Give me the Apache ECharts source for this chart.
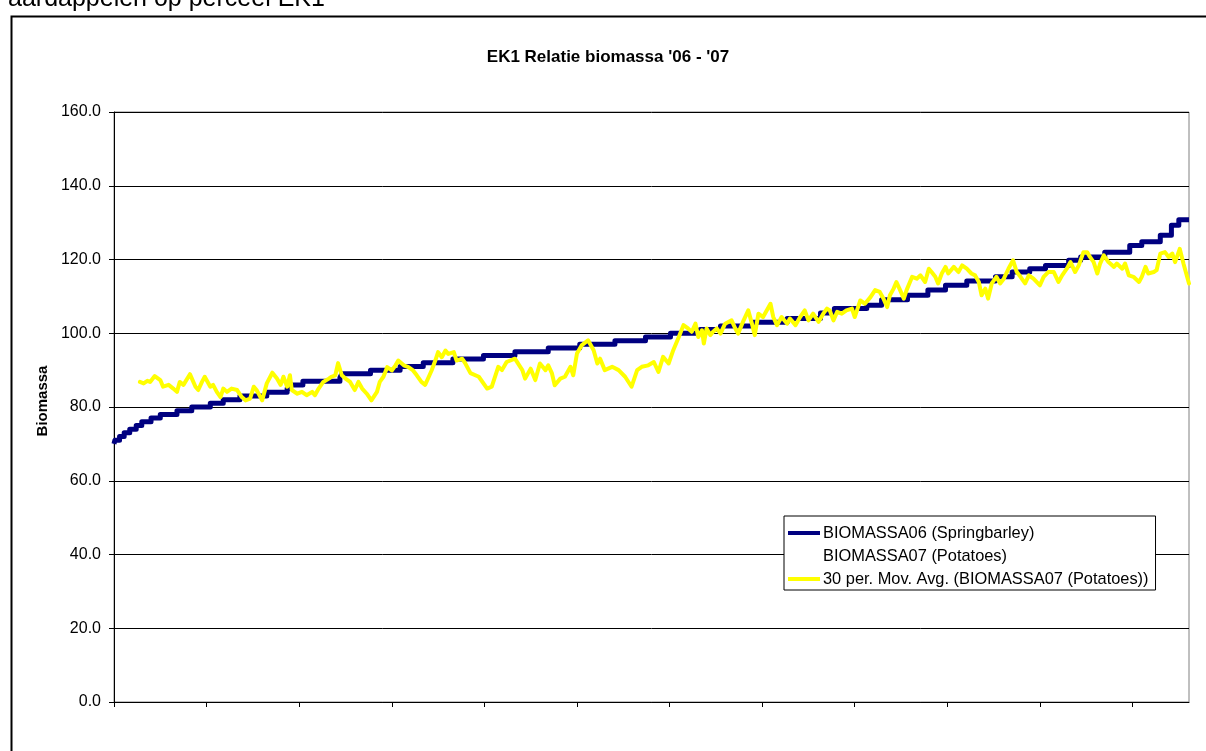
<!DOCTYPE html>
<html>
<head>
<meta charset="utf-8">
<script src="https://cdn.jsdelivr.net/npm/echarts@6/dist/echarts.min.js"></script>
<style>
html,body{margin:0;padding:0;background:#fff;}
#chart{width:1206px;height:751px;}
</style>
</head>
<body>
<div id="chart"></div>
<script>
// ---- texts ----
const pageCaption = 'aardappelen op perceel EK1';
const chartTitle = "EK1 Relatie biomassa '06 - '07";
const yAxisTitle = 'Biomassa';
const seriesNames = [
  'BIOMASSA06 (Springbarley)',
  'BIOMASSA07 (Potatoes)',
  '30 per. Mov. Avg. (BIOMASSA07 (Potatoes))'
];

// ---- axes ----
const yMin = 0, yMax = 160, yStep = 20;
const lastCategory = 1161;      // categories 0..1161
const categoryTickEvery = 100;

// ---- BIOMASSA06: category index where each level starts, and the level ----
const bio06Idx = [0, 1, 6, 11, 17, 24, 30, 40, 50, 68, 84, 104, 118, 136, 165, 187, 190, 204,
  244, 246, 277, 309, 334, 366, 399, 433, 469, 503, 541, 574, 601, 633, 655, 690, 727,
  763, 778, 813, 829, 857, 879, 898, 921, 952, 970, 989, 1006, 1031, 1044, 1070, 1097,
  1110, 1130, 1142, 1150, 1161];
const bio06Val = [70, 71, 72, 73, 74, 75, 76, 77, 78, 79, 80, 81, 82, 83, 84, 85, 86, 87,
  88, 89, 90, 91, 92, 93, 94, 95, 96, 97, 98, 99, 100, 101, 102, 103, 104,
  105.5, 106.7, 107.6, 109.1, 110.3, 111.7, 113.0, 114.2, 115.3, 116.6, 117.5, 118.4, 119.8, 120.7, 122.0, 123.8,
  124.8, 126.6, 129.3, 130.8, 130.8];

// ---- BIOMASSA07 raw values (not drawn in the reference) ----
const bio07Idx = [];
const bio07Val = [];

// ---- 30 per. moving average of BIOMASSA07 ----
const movAvgIdx = [28, 32, 36, 39, 44, 50, 53, 59, 64, 68, 71, 75, 82, 88, 91, 95, 98, 104, 107, 111,
  115, 118, 122, 127, 133, 138, 142, 147, 151, 154, 160, 165, 171, 176, 180, 183, 187, 190, 192, 198,
  203, 208, 214, 217, 221, 226, 232, 235, 239, 242, 246, 250, 255, 260, 264, 268, 273, 278, 284, 287,
  291, 295, 300, 304, 307, 313, 318, 323, 327, 332, 336, 340, 343, 347, 350, 354, 358, 361, 367, 370,
  376, 379, 385, 394, 403, 408, 415, 419, 424, 433, 441, 444, 450, 455, 460, 466, 469, 473, 476, 482,
  487, 493, 496, 500, 505, 512, 518, 522, 525, 530, 538, 545, 552, 559, 565, 570, 577, 583, 588, 593,
  599, 604, 610, 615, 620, 624, 628, 631, 635, 637, 640, 644, 647, 651, 655, 660, 667, 671, 674, 680,
  685, 689, 692, 696, 701, 709, 712, 716, 721, 727, 730, 736, 741, 746, 750, 755, 761, 766, 770, 773,
  777, 781, 786, 791, 797, 800, 806, 811, 817, 822, 827, 831, 835, 838, 842, 845, 849, 853, 856, 862,
  867, 871, 876, 880, 883, 887, 890, 894, 898, 901, 907, 912, 916, 921, 926, 930, 934, 937, 941, 944,
  948, 953, 957, 961, 966, 971, 975, 979, 984, 988, 993, 1000, 1004, 1009, 1015, 1020, 1024, 1029, 1033, 1038,
  1042, 1047, 1051, 1054, 1058, 1062, 1065, 1069, 1074, 1080, 1083, 1089, 1092, 1096, 1101, 1107, 1110, 1114, 1117, 1123,
  1126, 1130, 1135, 1139, 1143, 1146, 1151, 1155, 1161];
const movAvgVal = [86.8, 86.4, 87.1, 86.8, 88.4, 87.3, 85.5, 86.0, 85.0, 84.1, 86.8, 86.0, 88.9, 85.5, 84.6, 86.8, 88.2, 85.5, 86.0, 84.1,
  82.7, 85.0, 84.1, 85.0, 84.6, 82.7, 81.8, 82.3, 85.5, 84.6, 81.8, 86.4, 89.3, 87.7, 86.0, 88.2, 85.5, 88.6, 84.6, 83.6,
  84.1, 83.2, 84.1, 83.2, 85.0, 86.8, 87.7, 88.2, 88.6, 91.9, 88.6, 87.7, 86.8, 84.6, 86.8, 85.0, 83.6, 81.8, 84.1, 86.8,
  88.2, 90.8, 89.9, 91.3, 92.6, 91.3, 90.8, 89.9, 88.6, 86.8, 86.0, 88.2, 89.9, 92.6, 94.9, 93.5, 95.3, 94.4, 94.9, 92.6,
  93.1, 92.0, 89.2, 88.2, 85.0, 85.5, 90.9, 90.0, 92.2, 93.1, 90.0, 87.7, 90.4, 87.3, 91.8, 90.0, 91.3, 89.1, 85.9, 87.7,
  88.2, 90.9, 88.6, 94.5, 96.7, 98.1, 95.4, 91.8, 93.1, 90.0, 90.9, 90.0, 88.2, 85.5, 90.0, 90.9, 91.3, 92.2, 89.5, 93.6,
  91.8, 95.4, 99.0, 102.2, 101.3, 100.4, 102.6, 99.0, 100.8, 97.2, 101.3, 99.5, 100.4, 101.3, 99.9, 102.6, 103.5, 101.3, 99.9, 103.5,
  106.2, 102.6, 99.5, 105.3, 104.4, 108.0, 104.4, 102.2, 104.4, 102.6, 104.0, 102.2, 104.4, 106.2, 103.5, 105.3, 103.1, 105.3, 106.7, 106.2,
  103.5, 105.8, 105.3, 106.2, 106.7, 104.4, 108.9, 108.0, 109.8, 111.7, 111.2, 109.4, 107.1, 110.3, 112.1, 113.9, 111.7, 109.4, 111.7, 115.3,
  114.8, 115.7, 113.9, 117.5, 116.6, 115.3, 113.5, 116.2, 118.0, 116.2, 118.0, 116.6, 118.4, 117.5, 116.2, 115.7, 113.9, 110.3, 112.1, 109.4,
  113.5, 115.3, 113.5, 114.8, 117.5, 119.8, 116.6, 115.3, 113.5, 115.7, 114.8, 113.0, 115.3, 116.6, 116.6, 113.9, 115.7, 117.5, 119.3, 116.6,
  118.4, 122.0, 122.0, 120.7, 119.3, 116.2, 118.9, 121.1, 119.3, 118.0, 118.9, 117.5, 118.9, 115.7, 115.3, 113.9, 115.3, 118.0, 116.2, 116.6,
  117.1, 121.6, 122.0, 120.7, 121.6, 119.3, 122.9, 118.9, 113.5];

const zip = (a, b) => a.map((v, i) => [v, b[i]]);
const FONT = '"Liberation Sans", Arial, sans-serif';

const tickValues = [];
for (let v = 0; v <= lastCategory; v += categoryTickEvery) tickValues.push(v);

const chart = echarts.init(document.getElementById('chart'), null, {renderer: 'canvas'});
chart.setOption({
  animation: false,
  backgroundColor: '#fff',
  title: {
    text: chartTitle,
    left: 603, textAlign: 'center', top: 44,
    textStyle: {fontFamily: FONT, fontSize: 17, fontWeight: 'bold', color: '#000'}
  },
  graphic: [
    {type: 'rect', left: 9, top: 14, silent: true, z: 100,
     shape: {width: 1220, height: 780},
     style: {fill: 'none', stroke: '#000', lineWidth: 2}},
    {type: 'text', left: 8, top: -13, silent: true,
     style: {text: pageCaption, font: '25px "Liberation Sans", Arial, sans-serif', fill: '#000'}}
  ],
  grid: {
    left: 114, right: 17, top: 112, bottom: 49,
    show: true, borderColor: '#808080', borderWidth: 1, backgroundColor: 'transparent'
  },
  legend: {
    orient: 'vertical', left: 784, top: 516,
    padding: [9, 7, 3, 4],
    itemWidth: 32, itemHeight: 4, itemGap: 7,
    icon: 'rect',
    selectedMode: false,
    backgroundColor: '#fff', borderColor: '#000', borderWidth: 1,
    textStyle: {fontFamily: FONT, fontSize: 16.4, color: '#000', padding: [0, 0, 0, -2]},
    data: [
      {name: seriesNames[0]},
      {name: seriesNames[1], itemStyle: {color: 'rgba(0,0,0,0)'}},
      {name: seriesNames[2]}
    ]
  },
  xAxis: {
    type: 'value', min: 0, max: lastCategory, interval: categoryTickEvery,
    axisLine: {show: true, onZero: false, lineStyle: {color: '#000', width: 1}},
    axisTick: {show: true, inside: false, length: 5, customValues: tickValues, lineStyle: {color: '#000'}},
    axisLabel: {show: false},
    splitLine: {show: false}
  },
  yAxis: {
    type: 'value', min: yMin, max: yMax, interval: yStep,
    name: yAxisTitle, nameLocation: 'middle', nameRotate: 90, nameGap: 63,
    nameTextStyle: {fontFamily: FONT, fontSize: 15, fontWeight: 'bold', color: '#000', padding: [0, 0, 0, 12]},
    axisLine: {show: true, lineStyle: {color: '#000', width: 1}},
    axisTick: {show: true, inside: false, length: 5, lineStyle: {color: '#000'}},
    axisLabel: {fontFamily: FONT, fontSize: 16, color: '#000', margin: 13,
      formatter: v => v.toFixed(1)},
    splitLine: {show: true, lineStyle: {color: '#000', width: 1}}
  },
  series: [
    {
      name: seriesNames[0], type: 'line', step: 'end',
      data: zip(bio06Idx, bio06Val),
      showSymbol: false, symbol: 'none',
      color: '#000080',
      lineStyle: {color: '#000080', width: 5, join: 'round'},
      z: 3
    },
    {
      name: seriesNames[1], type: 'line',
      data: zip(bio07Idx, bio07Val),
      showSymbol: false, symbol: 'none',
      color: 'rgba(0,0,0,0)',
      lineStyle: {opacity: 0},
      z: 3
    },
    {
      name: seriesNames[2], type: 'line',
      data: zip(movAvgIdx, movAvgVal),
      showSymbol: false, symbol: 'none',
      color: '#FFFF00',
      lineStyle: {color: '#FFFF00', width: 4, join: 'round', cap: 'round'},
      z: 4
    }
  ]
});
</script>
</body>
</html>
